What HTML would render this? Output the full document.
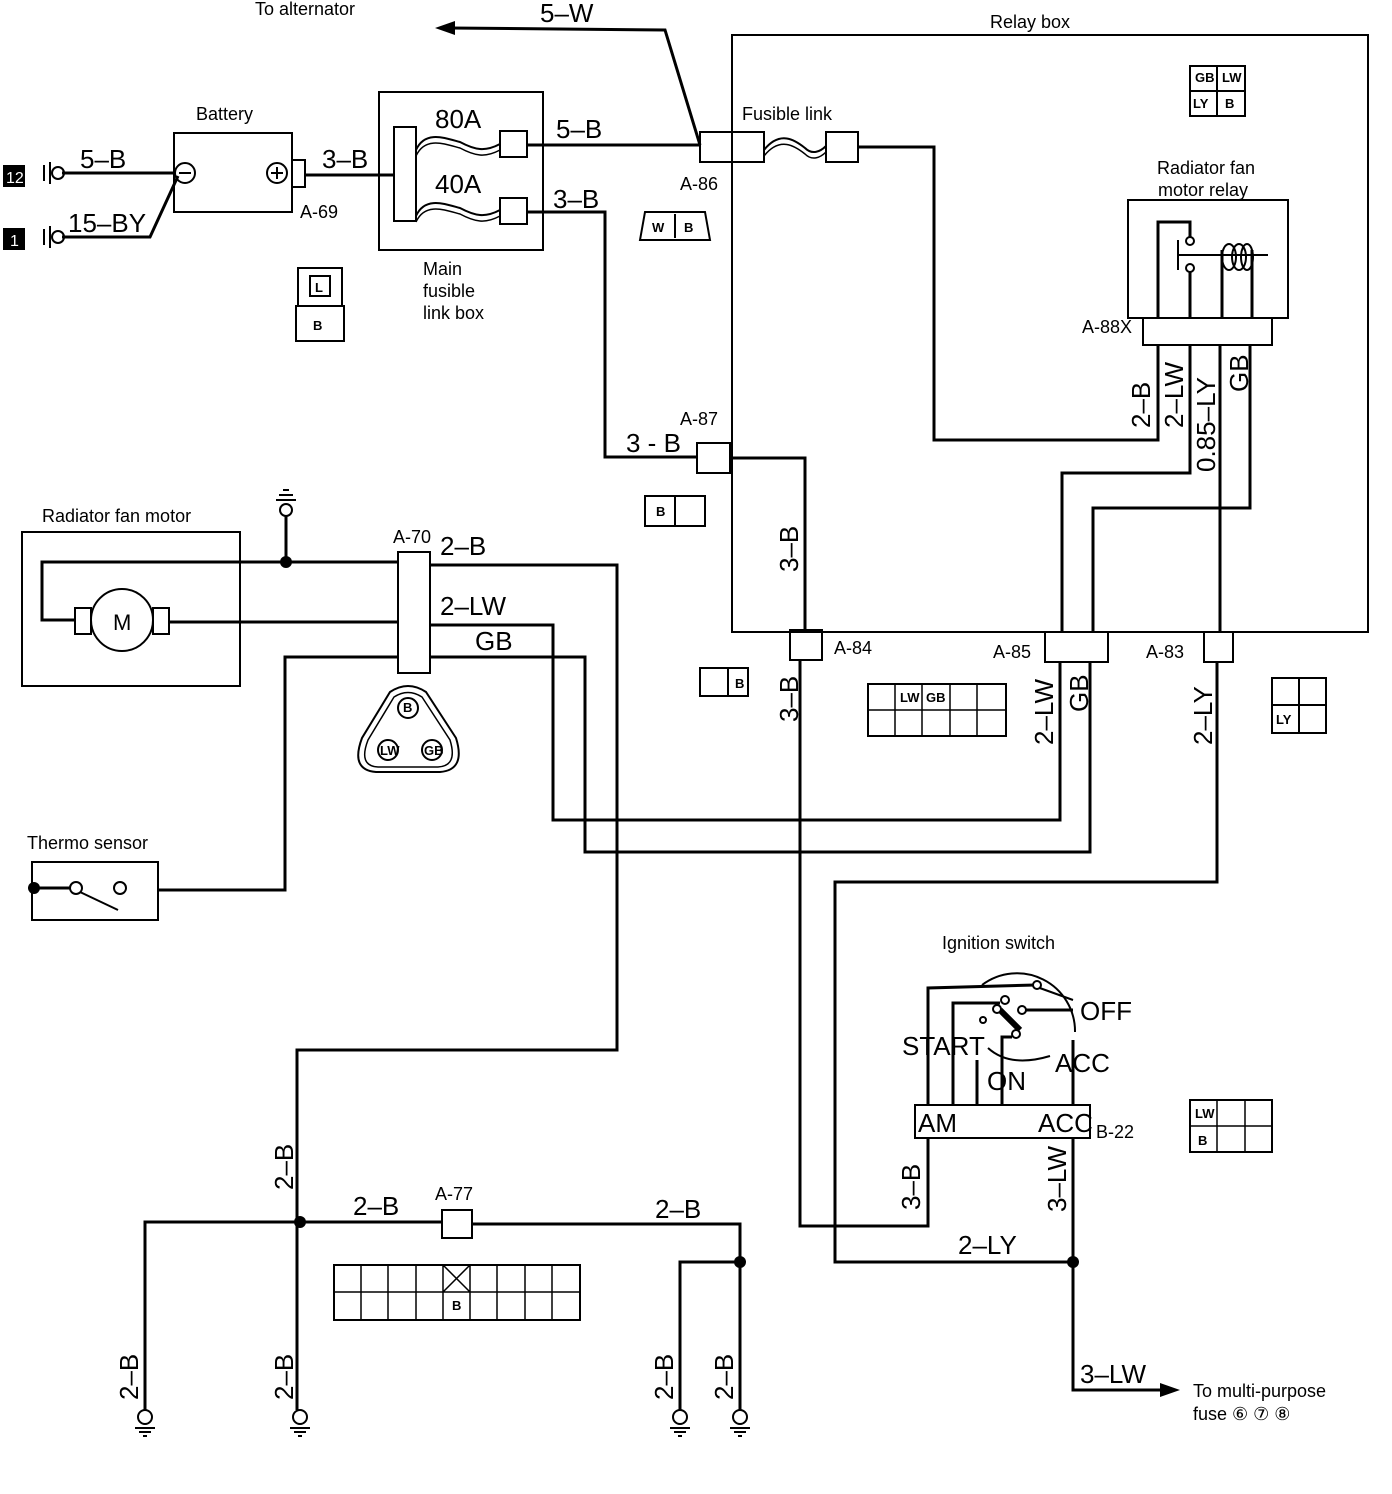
<!DOCTYPE html>
<html><head><meta charset="utf-8"><style>
html,body{margin:0;padding:0;background:#fff}
svg{display:block}
text{font-family:"Liberation Sans",sans-serif;fill:#000}
.w{font-size:26px}
.s{font-size:18px}
.t{font-size:13px;font-weight:bold}
</style></head><body>
<svg width="1392" height="1494" viewBox="0 0 1392 1494" xmlns="http://www.w3.org/2000/svg">
<g fill="none" stroke="#000" stroke-width="3">
<polyline points="700,145 665,30 450,28"/>
<rect x="732" y="35" width="636" height="597" stroke-width="2"/>
<rect x="174" y="133" width="118" height="79" stroke-width="2"/>
<circle cx="185" cy="173" r="10" stroke-width="2"/>
<line x1="179" y1="173" x2="191" y2="173" stroke-width="2"/>
<circle cx="277" cy="173" r="10" stroke-width="2"/>
<line x1="271" y1="173" x2="283" y2="173" stroke-width="2"/>
<line x1="277" y1="167" x2="277" y2="179" stroke-width="2"/>
<rect x="292" y="160" width="13" height="27" stroke-width="2"/>
<polyline points="62,173 174,173"/>
<polyline points="62,237 150,237 178,176"/>
<polyline points="305,175 393,175"/>
<rect x="379" y="92" width="164" height="158" stroke-width="2"/>
<rect x="394" y="127" width="22" height="94" stroke-width="2"/>
<rect x="500" y="131" width="27" height="26" stroke-width="2"/>
<rect x="500" y="198" width="27" height="26" stroke-width="2"/>
<path d="M416,150 C425,130 445,138 460,142 C475,150 485,152 500,144" stroke-width="2"/>
<path d="M416,156 C425,136 445,144 460,148 C475,156 485,158 500,150" stroke-width="1.5"/>
<path d="M416,216 C425,196 445,204 460,208 C475,216 485,218 500,210" stroke-width="2"/>
<path d="M416,222 C425,202 445,210 460,214 C475,222 485,224 500,216" stroke-width="1.5"/>
<polyline points="527,145 700,145"/>
<polyline points="527,212 605,212 605,457 697,457"/>
<rect x="700" y="132" width="32" height="30" stroke-width="2"/>
<rect x="732" y="132" width="32" height="30" stroke-width="2"/>
<rect x="826" y="132" width="32" height="30" stroke-width="2"/>
<path d="M764,150 C780,130 795,140 805,148 C812,155 820,152 826,146" stroke-width="2"/>
<path d="M764,156 C780,136 795,146 805,154 C812,161 820,158 826,152" stroke-width="1.5"/>
<polyline points="858,147 934,147 934,440 1158,440 1158,345"/>
<rect x="697" y="443" width="33" height="30" stroke-width="2"/>
<polyline points="730,458 805,458 805,630"/>
<rect x="790" y="630" width="32" height="30" stroke-width="2"/>
<polyline points="800,660 800,1226 928,1226 928,1138"/>
<rect x="1128" y="200" width="160" height="118" stroke-width="2"/>
<rect x="1143" y="318" width="129" height="27" stroke-width="2"/>
<polyline points="1158,318 1158,222 1190,222 1190,238"/>
<circle cx="1190" cy="241" r="4" stroke-width="2"/>
<circle cx="1190" cy="268" r="4" stroke-width="2"/>
<line x1="1178" y1="240" x2="1178" y2="270" stroke-width="2"/>
<line x1="1178" y1="255" x2="1268" y2="255" stroke-width="2"/>
<line x1="1190" y1="272" x2="1190" y2="318"/>
<line x1="1222" y1="250" x2="1222" y2="318"/>
<line x1="1252" y1="250" x2="1252" y2="318"/>
<ellipse cx="1229" cy="257" rx="7" ry="13" stroke-width="2"/>
<ellipse cx="1239" cy="257" rx="7" ry="13" stroke-width="2"/>
<ellipse cx="1247" cy="257" rx="6" ry="13" stroke-width="2"/>
<polyline points="1190,345 1190,473 1062,473 1062,632"/>
<polyline points="1220,345 1220,632"/>
<polyline points="1250,345 1250,508 1093,508 1093,632"/>
<rect x="1045" y="632" width="63" height="30" stroke-width="2"/>
<rect x="1204" y="632" width="29" height="30" stroke-width="2"/>
<polyline points="1060,662 1060,820 553,820 553,625 430,625"/>
<polyline points="1090,662 1090,852 585,852 585,657 430,657"/>
<polyline points="1217,662 1217,882 835,882 835,1262 1073,1262"/>
<rect x="398" y="552" width="32" height="121" stroke-width="2"/>
<polyline points="430,565 617,565 617,1050 297,1050 297,1410"/>
<rect x="22" y="532" width="218" height="154" stroke-width="2"/>
<polyline points="398,562 42,562 42,620 75,620"/>
<circle cx="122" cy="620" r="31" stroke-width="2"/>
<rect x="75" y="608" width="16" height="26" stroke-width="2"/>
<rect x="153" y="608" width="16" height="26" stroke-width="2"/>
<polyline points="169,622 398,622"/>
<line x1="286" y1="562" x2="286" y2="515"/>
<circle cx="286" cy="510" r="6" stroke-width="2"/>
<line x1="276" y1="500" x2="296" y2="500" stroke-width="2"/>
<line x1="279" y1="495" x2="293" y2="495" stroke-width="2"/>
<line x1="283" y1="490" x2="289" y2="490" stroke-width="2"/>
<polyline points="398,657 285,657 285,890 158,890"/>
<rect x="32" y="862" width="126" height="58" stroke-width="2"/>
<line x1="34" y1="888" x2="70" y2="888"/>
<circle cx="76" cy="888" r="6" stroke-width="2"/>
<circle cx="120" cy="888" r="6" stroke-width="2"/>
<line x1="80" y1="892" x2="118" y2="910" stroke-width="2"/>
<polyline points="145,1410 145,1222 442,1222"/>
<rect x="442" y="1210" width="30" height="28" stroke-width="2"/>
<polyline points="472,1224 740,1224 740,1410"/>
<polyline points="740,1262 680,1262 680,1410"/>
<!-- ignition -->
<rect x="915" y="1105" width="175" height="33" stroke-width="2"/>
<polyline points="928,1105 928,988 1035,985"/>
<polyline points="953,1105 953,1003 1000,1003"/>
<line x1="977" y1="1105" x2="977" y2="1060"/>
<polyline points="1002,1105 1002,1037 1012,1037"/>
<line x1="1073" y1="1105" x2="1073" y2="1040"/>
<path d="M982,985 A58,58 0 0 1 1075,1032" stroke-width="2"/>
<path d="M988,1048 Q1010,1068 1050,1056" stroke-width="2"/>
<line x1="1037" y1="987" x2="1073" y2="1000" stroke-width="2"/>
<line x1="1022" y1="1010" x2="1073" y2="1010"/>
<line x1="1000" y1="1010" x2="1020" y2="1030" stroke-width="6"/>
<circle cx="1037" cy="985" r="4" fill="#fff" stroke-width="2"/>
<circle cx="1005" cy="1000" r="4" fill="#fff" stroke-width="2"/>
<circle cx="997" cy="1009" r="4" fill="#fff" stroke-width="2"/>
<circle cx="1022" cy="1010" r="4" fill="#fff" stroke-width="2"/>
<circle cx="1016" cy="1034" r="4" fill="#fff" stroke-width="2"/>
<circle cx="983" cy="1020" r="3" fill="#fff" stroke-width="2"/>
<polyline points="1073,1138 1073,1390 1160,1390"/>
<circle cx="58" cy="173" r="6" stroke-width="2"/>
<circle cx="58" cy="237" r="6" stroke-width="2"/>
<line x1="44" y1="165" x2="44" y2="181" stroke-width="2"/><line x1="50" y1="162" x2="50" y2="184" stroke-width="2"/>
<line x1="44" y1="229" x2="44" y2="245" stroke-width="2"/><line x1="50" y1="226" x2="50" y2="248" stroke-width="2"/>
<rect x="298" y="268" width="44" height="38" stroke-width="2"/>
<rect x="310" y="276" width="20" height="20" stroke-width="2"/>
<rect x="296" y="306" width="48" height="35" stroke-width="2"/>
<path d="M640,240 L645,212 L705,212 L710,240 Z" stroke-width="2"/>
<line x1="675" y1="214" x2="675" y2="238" stroke-width="2"/>
<rect x="645" y="496" width="60" height="30" stroke-width="2"/>
<line x1="675" y1="496" x2="675" y2="526" stroke-width="2"/>
<rect x="1190" y="66" width="55" height="50" stroke-width="2"/>
<line x1="1217" y1="66" x2="1217" y2="116" stroke-width="2"/><line x1="1190" y1="91" x2="1245" y2="91" stroke-width="2"/>
<rect x="700" y="668" width="48" height="28" stroke-width="2"/>
<line x1="728" y1="668" x2="728" y2="696" stroke-width="2"/>
<rect x="868" y="684" width="138" height="52" stroke-width="2"/>
<path d="M895,684V736M922,684V736M950,684V736M977,684V736M868,710H1006" stroke-width="1.5"/>
<rect x="1272" y="678" width="54" height="55" stroke-width="2"/>
<line x1="1299" y1="678" x2="1299" y2="733" stroke-width="2"/><line x1="1272" y1="705" x2="1326" y2="705" stroke-width="2"/>
<rect x="1190" y="1100" width="82" height="52" stroke-width="2"/>
<path d="M1217,1100V1152M1245,1100V1152M1190,1126H1272" stroke-width="1.5"/>
<rect x="334" y="1265" width="246" height="55" stroke-width="2"/>
<path d="M361,1265V1320M388,1265V1320M416,1265V1320M443,1265V1320M470,1265V1320M497,1265V1320M525,1265V1320M552,1265V1320M334,1292H580M443,1265L470,1292M470,1265L443,1292" stroke-width="1.5"/>
<path d="M390,692 Q408,680 426,692 L456,738 Q466,770 440,772 L376,772 Q350,770 362,738 Z" stroke-width="2"/>
<path d="M394,697 Q408,688 422,697 L450,740 Q458,766 438,767 L378,767 Q358,766 368,740 Z" stroke-width="1.5"/>
<circle cx="408" cy="708" r="10" stroke-width="2"/><circle cx="388" cy="750" r="10" stroke-width="2"/><circle cx="432" cy="750" r="10" stroke-width="2"/>
</g>
<polygon points="435,28 455,21 455,35"/>
<polygon points="1180,1390 1160,1383 1160,1397"/>
<circle cx="286" cy="562" r="6"/><circle cx="300" cy="1222" r="6"/><circle cx="740" cy="1262" r="6"/><circle cx="1073" cy="1262" r="6"/><circle cx="34" cy="888" r="6"/>
<rect x="3" y="165" width="22" height="22"/><rect x="3" y="228" width="22" height="22"/>
<text x="6" y="183" font-size="16" style="fill:#fff">12</text><text x="10" y="246" font-size="16" style="fill:#fff">1</text>
<g fill="none" stroke="#000" stroke-width="2">
<circle cx="145" cy="1417" r="7"/><circle cx="300" cy="1417" r="7"/><circle cx="680" cy="1417" r="7"/><circle cx="740" cy="1417" r="7"/>
<path d="M135,1428H155M139,1432H151M143,1436H147M290,1428H310M294,1432H306M298,1436H302M670,1428H690M674,1432H686M678,1436H682M730,1428H750M734,1432H746M738,1436H742"/>
</g>
<text x="255" y="15" class="s">To alternator</text>
<text x="540" y="22" class="w">5–W</text>
<text x="990" y="28" class="s">Relay box</text>
<text x="196" y="120" class="s">Battery</text>
<text x="80" y="168" class="w">5–B</text>
<text x="68" y="232" class="w">15–BY</text>
<text x="322" y="168" class="w">3–B</text>
<text x="300" y="218" class="s">A-69</text>
<text x="435" y="128" class="w">80A</text>
<text x="435" y="193" class="w">40A</text>
<text x="556" y="138" class="w">5–B</text>
<text x="553" y="208" class="w">3–B</text>
<text x="423" y="275" class="s">Main</text><text x="423" y="297" class="s">fusible</text><text x="423" y="319" class="s">link box</text>
<text x="313" y="330" class="t">B</text><text x="315" y="292" class="t">L</text>
<text x="652" y="232" class="t">W</text><text x="684" y="232" class="t">B</text>
<text x="742" y="120" class="s">Fusible link</text>
<text x="680" y="190" class="s">A-86</text>
<text x="680" y="425" class="s">A-87</text>
<text x="626" y="452" class="w">3 - B</text>
<text x="656" y="516" class="t">B</text>
<text x="1157" y="174" class="s">Radiator fan</text><text x="1158" y="196" class="s">motor relay</text>
<text x="1082" y="333" class="s">A-88X</text>
<text x="1195" y="82" class="t">GB</text><text x="1222" y="82" class="t">LW</text><text x="1193" y="108" class="t">LY</text><text x="1225" y="108" class="t">B</text>
<g class="w">
<text transform="translate(1150,428) rotate(-90)">2–B</text>
<text transform="translate(1183,428) rotate(-90)">2–LW</text>
<text transform="translate(1215,472) rotate(-90)">0.85–LY</text>
<text transform="translate(1248,392) rotate(-90)">GB</text>
<text transform="translate(798,572) rotate(-90)">3–B</text>
<text transform="translate(798,722) rotate(-90)">3–B</text>
<text transform="translate(1053,745) rotate(-90)">2–LW</text>
<text transform="translate(1088,712) rotate(-90)">GB</text>
<text transform="translate(1212,745) rotate(-90)">2–LY</text>
<text transform="translate(293,1190) rotate(-90)">2–B</text>
<text transform="translate(138,1400) rotate(-90)">2–B</text>
<text transform="translate(293,1400) rotate(-90)">2–B</text>
<text transform="translate(673,1400) rotate(-90)">2–B</text>
<text transform="translate(733,1400) rotate(-90)">2–B</text>
<text transform="translate(920,1210) rotate(-90)">3–B</text>
<text transform="translate(1066,1212) rotate(-90)">3–LW</text>
</g>
<text x="834" y="654" class="s">A-84</text>
<text x="993" y="658" class="s">A-85</text>
<text x="1146" y="658" class="s">A-83</text>
<text x="735" y="688" class="t">B</text>
<text x="900" y="702" class="t">LW</text><text x="926" y="702" class="t">GB</text>
<text x="1276" y="724" class="t">LY</text>
<text x="42" y="522" class="s">Radiator fan motor</text>
<text x="113" y="630" font-size="22">M</text>
<text x="393" y="543" class="s">A-70</text>
<text x="440" y="555" class="w">2–B</text>
<text x="440" y="615" class="w">2–LW</text>
<text x="475" y="650" class="w">GB</text>
<text x="403" y="712" class="t">B</text><text x="380" y="755" class="t">LW</text><text x="424" y="755" class="t">GB</text>
<text x="27" y="849" class="s">Thermo sensor</text>
<text x="942" y="949" class="s">Ignition switch</text>
<text x="1080" y="1020" class="w">OFF</text>
<text x="902" y="1055" class="w">START</text>
<text x="1055" y="1072" class="w">ACC</text>
<text x="987" y="1090" class="w">ON</text>
<text x="918" y="1132" class="w">AM</text>
<text x="1038" y="1132" class="w">ACC</text>
<text x="1096" y="1138" class="s">B-22</text>
<text x="958" y="1254" class="w">2–LY</text>
<text x="1080" y="1383" class="w">3–LW</text>
<text x="1193" y="1397" class="s">To multi-purpose</text>
<text x="1193" y="1420" class="s">fuse ⑥ ⑦ ⑧</text>
<text x="353" y="1215" class="w">2–B</text>
<text x="435" y="1200" class="s">A-77</text>
<text x="655" y="1218" class="w">2–B</text>
<text x="452" y="1310" class="t">B</text>
<text x="1198" y="1145" class="t">B</text><text x="1195" y="1118" class="t">LW</text>
</svg>
</body></html>
